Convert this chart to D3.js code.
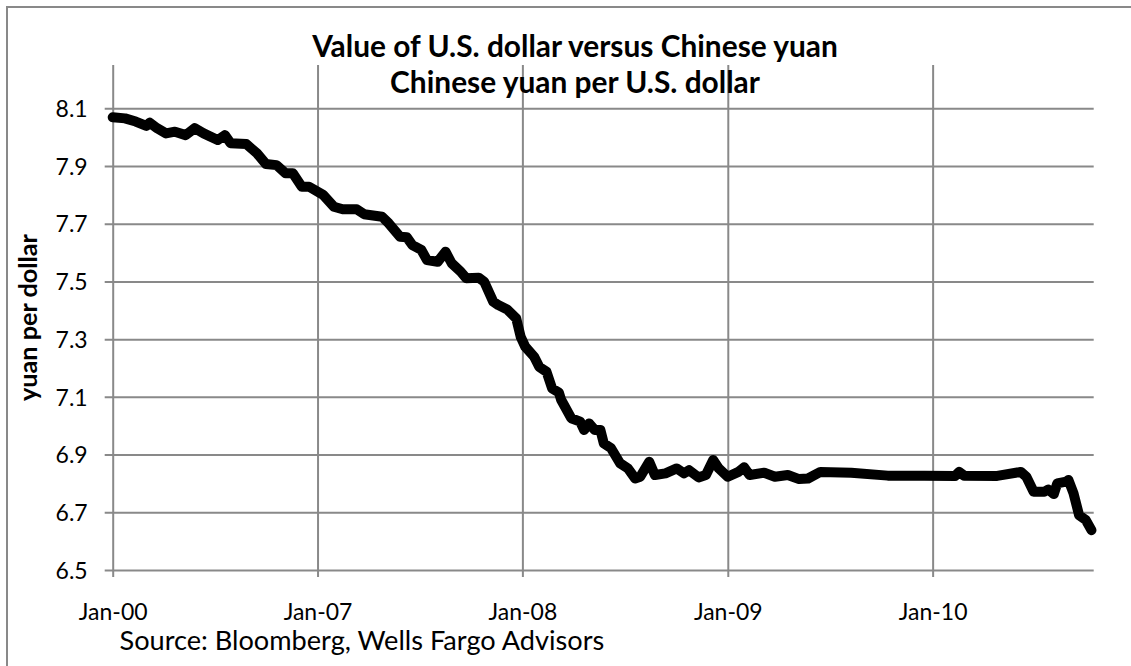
<!DOCTYPE html>
<html>
<head>
<meta charset="utf-8">
<script src="https://cdn.jsdelivr.net/npm/d3@7"></script>
<style>
  body { margin: 0; background: #fff; }
  svg { display: block; font-family: Lato, 'Noto Sans', sans-serif; }
</style>
</head>
<body>
<div id="chart"></div>
<script>
// yuan per U.S. dollar
const dates = [
    '2006-01-01', '2006-01-23', '2006-02-11', '2006-03-02', '2006-03-08', '2006-03-21',
    '2006-04-06', '2006-04-22', '2006-05-11', '2006-05-27', '2006-06-12', '2006-07-07',
    '2006-07-20', '2006-07-30', '2006-08-27', '2006-09-15', '2006-10-01', '2006-10-20',
    '2006-11-05', '2006-11-18', '2006-12-04', '2006-12-17', '2007-01-11', '2007-01-30',
    '2007-02-15', '2007-03-12', '2007-03-25', '2007-04-26', '2007-05-08', '2007-05-28',
    '2007-06-09', '2007-06-19', '2007-07-05', '2007-07-15', '2007-08-03', '2007-08-17',
    '2007-08-28', '2007-09-13', '2007-09-23', '2007-10-15', '2007-10-25', '2007-11-10',
    '2007-11-19', '2007-12-05', '2007-12-21', '2007-12-29', '2008-01-06', '2008-01-22',
    '2008-01-31', '2008-02-13', '2008-02-23', '2008-03-06', '2008-03-10', '2008-03-28',
    '2008-04-13', '2008-04-20', '2008-04-29', '2008-05-09', '2008-05-19', '2008-05-25',
    '2008-06-07', '2008-06-23', '2008-07-07', '2008-07-20', '2008-07-29', '2008-08-14',
    '2008-08-24', '2008-09-12', '2008-10-02', '2008-10-15', '2008-10-24', '2008-11-10',
    '2008-11-23', '2008-12-06', '2008-12-16', '2009-01-01', '2009-01-20', '2009-01-30',
    '2009-02-09', '2009-03-07', '2009-03-26', '2009-04-18', '2009-05-08', '2009-05-24',
    '2009-06-15', '2009-08-09', '2009-10-13', '2009-12-17', '2010-02-10', '2010-02-17',
    '2010-02-26', '2010-04-26', '2010-06-07', '2010-06-17', '2010-06-30', '2010-07-19',
    '2010-07-26', '2010-08-05', '2010-08-11', '2010-08-27', '2010-08-31', '2010-09-09',
    '2010-09-19', '2010-10-01', '2010-10-11'
];
const values = [
    8.069, 8.065, 8.054, 8.039, 8.050, 8.031,
    8.013, 8.019, 8.007, 8.031, 8.013, 7.990,
    8.007, 7.979, 7.976, 7.944, 7.907, 7.903,
    7.875, 7.875, 7.828, 7.828, 7.800, 7.759,
    7.750, 7.750, 7.733, 7.724, 7.701, 7.655,
    7.653, 7.626, 7.609, 7.574, 7.568, 7.603,
    7.563, 7.534, 7.511, 7.513, 7.499, 7.430,
    7.418, 7.403, 7.372, 7.308, 7.274, 7.239,
    7.204, 7.187, 7.129, 7.115, 7.090, 7.026,
    7.014, 6.985, 7.008, 6.985, 6.985, 6.939,
    6.922, 6.870, 6.852, 6.817, 6.823, 6.875,
    6.829, 6.835, 6.852, 6.835, 6.846, 6.821,
    6.829, 6.881, 6.852, 6.823, 6.840, 6.856,
    6.829, 6.837, 6.823, 6.829, 6.815, 6.817,
    6.840, 6.837, 6.827, 6.827, 6.826, 6.840,
    6.827, 6.826, 6.840, 6.823, 6.771, 6.771,
    6.779, 6.763, 6.800, 6.806, 6.812, 6.766,
    6.690, 6.673, 6.638
];

// axes: tick dates and their (as printed) labels, value ticks
const xTickDates = ['2006-01-01', '2007-01-01', '2008-01-01', '2009-01-01', '2010-01-01'];
const xTickLabels = ['Jan-00', 'Jan-07', 'Jan-08', 'Jan-09', 'Jan-10'];
const xExtent = ['2006-01-01', '2010-10-15'];
const yTicks = [6.5, 6.7, 6.9, 7.1, 7.3, 7.5, 7.7, 7.9, 8.1];
const yExtent = [6.5, 8.25];

// texts
const titleLines = ['Value of U.S. dollar versus Chinese yuan', 'Chinese yuan per U.S. dollar'];
const yTitle = 'yuan per dollar';
const sourceNote = 'Source: Bloomberg, Wells Fargo Advisors';

const [width, height] = [1131, 666];
const margin = { top: 65, right: 37.3, bottom: 96, left: 112.7 };
const plotW = width - margin.left - margin.right;
const plotH = height - margin.top - margin.bottom;
const grid = '#898989';

const parse = d3.utcParse('%Y-%m-%d');
const series = dates.map((d, i) => ({ date: parse(d), value: values[i] }));

const x = d3.scaleUtc().domain(xExtent.map(parse)).range([0, plotW]);
const y = d3.scaleLinear().domain(yExtent).range([plotH, 0]);

const svg = d3.select('#chart')
    .append('svg')
    .attr('width', width)
    .attr('height', height);

// scale a text's font size so that it spans the target width
function fitSize(sel, target) {
    const w = sel.node().getComputedTextLength();
    const fs = parseFloat(sel.style('font-size'));
    return fs * target / w;
}

// chart frame (runs off the picture right and bottom)
svg.append('rect')
    .attr('x', 7).attr('y', 7)
    .attr('width', width + 20).attr('height', height + 20)
    .attr('fill', '#fff')
    .attr('stroke', grid)
    .attr('stroke-width', 2);

const g = svg.append('g')
    .attr('transform', `translate(${margin.left},${margin.top})`);

// horizontal gridlines + value labels
const yAxis = g.append('g')
    .attr('transform', 'translate(-8,0)')
    .call(d3.axisLeft(y)
        .tickValues(yTicks)
        .tickSizeInner(-(plotW + 8))
        .tickSizeOuter(0)
        .tickPadding(17)
        .tickFormat(d3.format('.1f')));

// vertical gridlines + date labels
const xAxis = g.append('g')
    .attr('transform', `translate(0,${plotH + 7})`)
    .call(d3.axisBottom(x)
        .tickValues(xTickDates.map(parse))
        .tickSizeInner(-(plotH + 7))
        .tickSizeOuter(0)
        .tickFormat((d, i) => xTickLabels[i]));

[yAxis, xAxis].forEach((a) => {
    a.attr('font-family', null).attr('font-size', null);
    a.select('.domain').remove();
    a.selectAll('line').attr('stroke', grid).attr('stroke-width', 2);
    a.selectAll('text').attr('fill', '#000').style('font-size', '24px');
});

// size tick labels from the Jan-07 label width
const tickFs = fitSize(xAxis.selectAll('text').filter((d, i) => i === 1), 68.7);
[yAxis, xAxis].forEach((a) => a.selectAll('text').style('font-size', tickFs + 'px'));
xAxis.selectAll('text')
    .attr('text-anchor', 'middle')
    .attr('dy', null)
    .attr('y', 43);
yAxis.selectAll('text')
    .attr('text-anchor', 'end')
    .attr('x', -17)
    .attr('dy', '0.36em');

// the series
g.append('path')
    .datum(series)
    .attr('fill', 'none')
    .attr('stroke', '#000')
    .attr('stroke-width', 10)
    .attr('stroke-linejoin', 'round')
    .attr('stroke-linecap', 'round')
    .attr('d', d3.line().x((d) => x(d.date)).y((d) => y(d.value)));

// title
const title = svg.append('text')
    .attr('text-anchor', 'middle')
    .attr('font-weight', 'bold')
    .attr('fill', '#000')
    .style('font-size', '28px');
title.selectAll('tspan')
    .data(titleLines)
    .join('tspan')
    .attr('x', 575)
    .attr('y', (d, i) => 56.7 + i * 36.3)
    .text((d) => d);
const titleFs = fitSize(title.select('tspan'), 526);
title.style('font-size', titleFs + 'px');

// y axis title
const yt = svg.append('text')
    .attr('transform', `translate(37, ${margin.top + plotH / 2}) rotate(-90)`)
    .attr('text-anchor', 'middle')
    .attr('font-weight', 'bold')
    .attr('fill', '#000')
    .style('font-size', '24px')
    .text(yTitle);
yt.style('font-size', fitSize(yt, 167) + 'px');

// source note
const src = svg.append('text')
    .attr('x', 119.5)
    .attr('y', 650)
    .attr('fill', '#000')
    .style('font-size', '24px')
    .text(sourceNote);
src.style('font-size', fitSize(src, 485) + 'px');
</script>
</body>
</html>
